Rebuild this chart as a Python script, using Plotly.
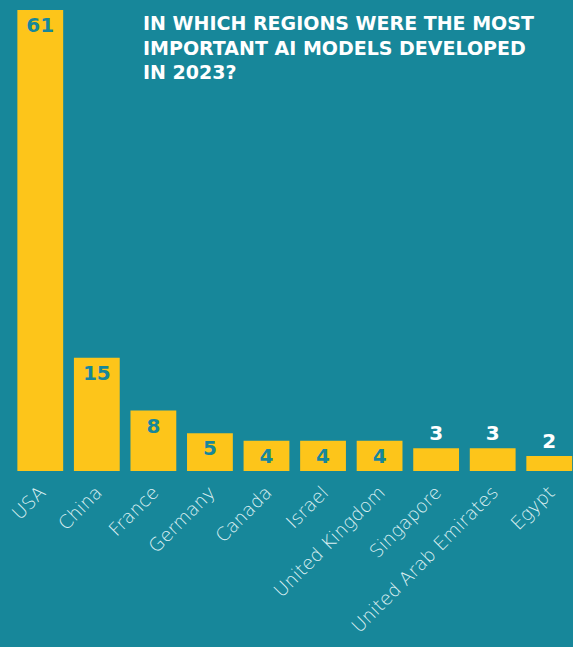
import plotly.graph_objects as go

countries = ["USA", "China", "France", "Germany", "Canada", "Israel",
             "United Kingdom", "Singapore", "United Arab Emirates", "Egypt"]
models = [61, 15, 8, 5, 4, 4, 4, 3, 3, 2]

BG = "#17879A"
BAR = "#FDC51A"

positions = ["inside" if v >= 4 else "outside" for v in models]
text_colors = [BG if v >= 4 else "white" for v in models]

fig = go.Figure(go.Bar(
    x=countries, y=models,
    marker=dict(color=BAR, line=dict(width=0)),
    text=[str(v) for v in models],
    textposition=positions,
    insidetextanchor="end",
    constraintext="none",
    textangle=0,
    textfont=dict(family="DejaVu Sans", size=20, color=text_colors, weight="bold"),
    cliponaxis=False,
))

fig.add_annotation(
    text="IN WHICH REGIONS WERE THE MOST<br>IMPORTANT AI MODELS DEVELOPED<br>IN 2023?",
    xref="paper", yref="paper",
    x=(141 - 12) / (573 - 12), y=1,
    xanchor="left", yanchor="top", align="left", showarrow=False,
    font=dict(family="DejaVu Sans", size=19, color="white", weight="bold"),
)

fig.update_layout(
    width=573, height=647,
    paper_bgcolor=BG, plot_bgcolor=BG,
    margin=dict(l=12, r=0, t=10, b=176, autoexpand=False),
    bargap=0.19,
    showlegend=False,
    xaxis=dict(
        range=[-0.5, 9.42],
        tickangle=-45,
        automargin=False,
        tickfont=dict(family="DejaVu Sans", size=18.5, color="#DCEFF2", weight=200),
        showgrid=False, zeroline=False, showline=False, ticks="",
        ticklabelstandoff=6,
    ),
    yaxis=dict(range=[0, 61], visible=False, showgrid=False, zeroline=False,
               automargin=False),
)

fig.write_html("out.html")
